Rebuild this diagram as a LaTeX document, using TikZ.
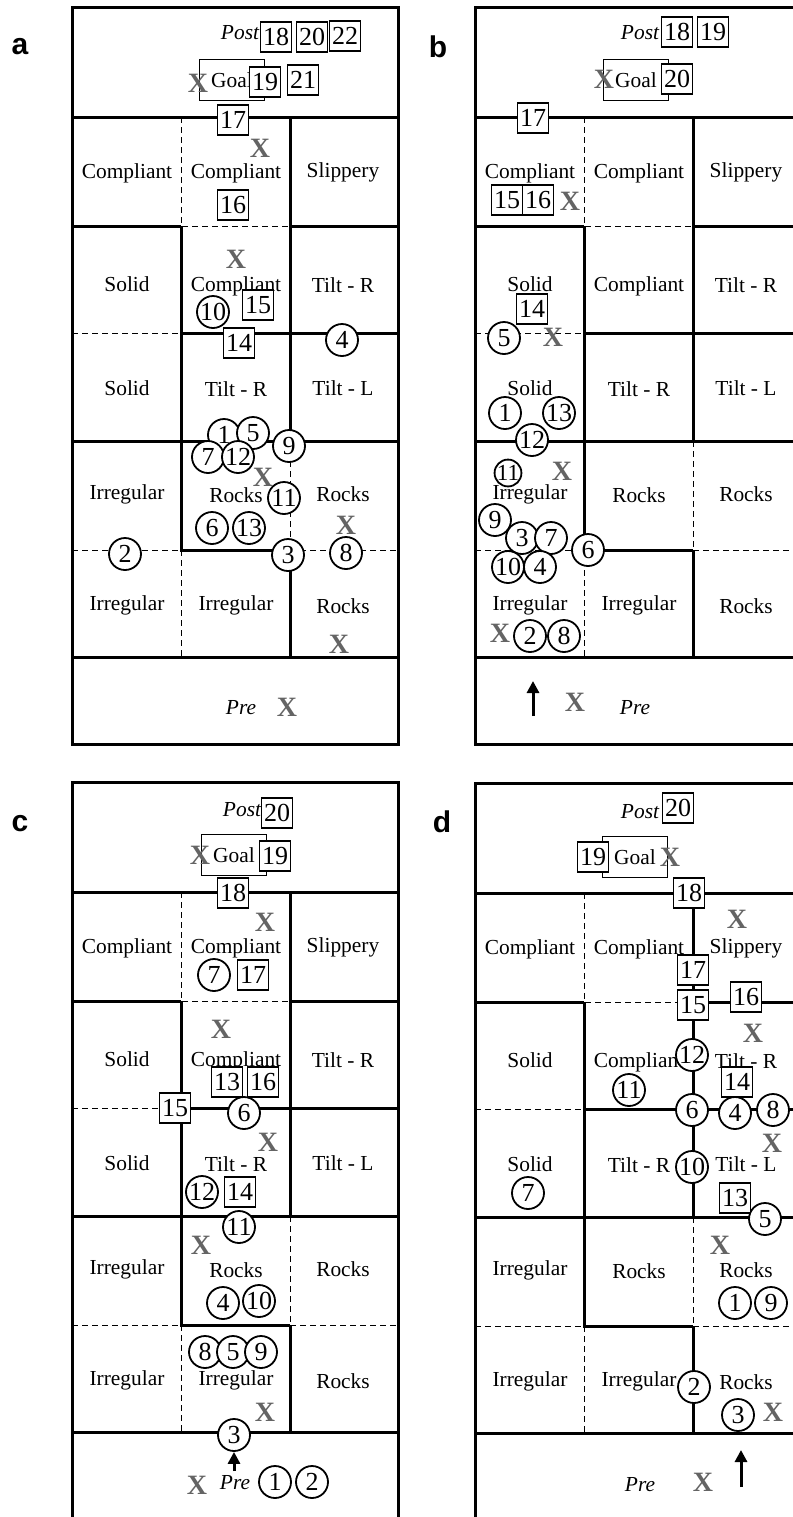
\documentclass[tikz,border=0pt]{standalone}
\usepackage{fontspec}
\setmainfont{Liberation Serif}
\newfontfamily\panelfont{Liberation Sans}
\usetikzlibrary{arrows.meta}
\definecolor{markgray}{RGB}{100,100,100}

% walls and lanes of one arena, in pixels from its top left corner
\newcommand{\arenagrid}{%
  \draw[wall] (0,0) rectangle (326,737);
  \draw[wall] (0,110) -- (326,110);
  \draw[wall] (218,110) -- (218,434) (218,543) -- (218,650);
  \draw[wall] (0,219) -- (109,219) (218,219) -- (326,219);
  \draw[wall] (109,219) -- (109,543) -- (218,543);
  \draw[wall] (109,326) -- (326,326);
  \draw[wall] (0,434) -- (326,434);
  \draw[wall] (0,650) -- (326,650);
  \draw[lane] (109,110) -- (109,219) -- (218,219);
  \draw[lane] (0,326) -- (109,326);
  \draw[lane] (218,434) -- (218,543);
  \draw[lane] (0,543) -- (109,543) (218,543) -- (326,543);
  \draw[lane] (109,543) -- (109,650);
}
\newcommand{\arenalabels}[1]{%
  \foreach \x/\y/\t in {55/166/Compliant,164/166/Compliant,271/165/Slippery,
      55/277/Solid,164/279/Compliant,271/278/Tilt - R,
      55/381/Solid,164/382/Tilt - R,271/381/Tilt - L,
      55/487/Irregular,164/488/Rocks,271/487/Rocks,
      55/598/Irregular,164/598/Irregular,271/599/Rocks}
    \node[cell] (#1-\x-\y) at (\x,\y) {\t};
}

\begin{document}
\begin{tikzpicture}[x=0.5pt,y=-0.5pt,>=Latex,
    wall/.style={line width=1.5pt},
    lane/.style={line width=0.5pt,dash pattern=on 3pt off 2pt},
    cell/.style={font=\fontsize{10.7}{12}\selectfont,inner sep=0pt},
    zone/.style={font=\fontsize{10.7}{12}\selectfont\itshape,inner sep=0pt},
    goalbox/.style={draw,line width=0.9pt,minimum width=32.5pt,minimum height=20.5pt,
      inner sep=0pt,font=\fontsize{10.7}{12}\selectfont},
    trialcirc/.style={circle,draw,fill=white,line width=0.9pt,minimum size=16pt,
      inner sep=0pt,font=\fontsize{13}{13}\selectfont},
    trialbox/.style={draw,fill=white,line width=0.9pt,minimum width=15.5pt,
      minimum height=15pt,inner sep=0.5pt,font=\fontsize{13}{13}\selectfont},
    miss/.style={text=markgray,inner sep=0pt,font=\fontsize{14}{14}\selectfont\bfseries},
    panel/.style={font=\fontsize{15}{15}\panelfont\bfseries},
    startarrow/.style={line width=1.5pt,-{Triangle[length=6pt,width=6pt]}}]
  \useasboundingbox (0,0) rectangle (793,1517);
  \clip (0,0) rectangle (793,1517);

  % a
  \begin{scope}[shift={(72,7)}]
    \arenagrid
    \arenalabels{a}
  \end{scope}
  \node[panel] (alabel) at (20,47) {a};
  \node[zone] (apost) at (240,33) {Post};
  \node[goalbox] (agoal) at (232,80) {Goal};
  \node[zone] (apre) at (241,708) {Pre};
  \foreach \x/\y/\n in {224/435/1,253/433/5,289/446/9,208/457/7,238/457/12,
      284/498/11,212/528/6,249/528/13,125/554/2,288/555/3,346/553/8,213/312/10,342/340/4}
    \node[trialcirc] (a\n) at (\x,\y) {\n};
  \foreach \x/\y/\n in {276/37/18,312/37/20,345/36/22,265/82/19,303/80/21,
      233/120/17,233/205/16,258/305/15,239/343/14}
    \node[trialbox] (a\n) at (\x,\y) {\n};
  \foreach \x/\y [count=\i] in {198/83,260/148,236/259,263/477,346/525,339/644,287/707}
    \node[miss] (aX\i) at (\x,\y) {X};

  % b
  \begin{scope}[shift={(475,7)}]
    \arenagrid
    \arenalabels{b}
  \end{scope}
  \node[panel] (blabel) at (438,47) {b};
  \node[zone] (bpost) at (640,33) {Post};
  \node[goalbox] (bgoal) at (636,80) {Goal};
  \node[zone] (bpre) at (635,708) {Pre};
  \foreach \x/\y/\n in {504/338/5,505/413/1,559/413/13,532/440/12,
      495/520/9,522/538/3,551/538/7,588/550/6,508/567/10,540/567/4,530/636/2,564/636/8}
    \node[trialcirc] (b\n) at (\x,\y) {\n};
  \node[trialcirc,minimum size=13pt,font=\fontsize{11.5}{11.5}\selectfont] (b11) at (508,473) {11};
  \foreach \x/\y/\n in {677/32/18,713/32/19,677/79/20,533/118/17,507/200/15,
      538/200/16,532/309/14}
    \node[trialbox] (b\n) at (\x,\y) {\n};
  \foreach \x/\y [count=\i] in {604/79,570/201,553/337,562/471,500/633,575/702}
    \node[miss] (bX\i) at (\x,\y) {X};
  \coordinate (btail) at (533,716);
  \coordinate (bhead) at (533,681);
  \draw[startarrow] (btail) -- (bhead);

  % c
  \begin{scope}[shift={(72,782)}]
    \arenagrid
    \arenalabels{c}
  \end{scope}
  \node[panel] (clabel) at (20,824) {c};
  \node[zone] (cpost) at (242,810) {Post};
  \node[goalbox] (cgoal) at (234,855) {Goal};
  \node[zone] (cpre) at (235,1483) {Pre};
  \foreach \x/\y/\n in {214/975/7,244/1113/6,202/1192/12,239/1227/11,223/1303/4,
      259/1301/10,205/1352/8,233/1352/5,261/1352/9,234/1435/3,275/1482/1,312/1482/2}
    \node[trialcirc] (c\n) at (\x,\y) {\n};
  \foreach \x/\y/\n in {277/813/20,275/856/19,233/893/18,253/975/17,227/1082/13,
      263/1082/16,175/1108/15,240/1192/14}
    \node[trialbox] (c\n) at (\x,\y) {\n};
  \foreach \x/\y [count=\i] in {200/855,265/922,221/1029,268/1142,201/1245,265/1412,197/1485}
    \node[miss] (cX\i) at (\x,\y) {X};
  \coordinate (ctail) at (234,1471);
  \draw[startarrow] (ctail) -- (c3.south);

  % d
  \begin{scope}[shift={(475,783)}]
    \arenagrid
    \arenalabels{d}
  \end{scope}
  \node[panel] (dlabel) at (442,822) {d};
  \node[zone] (dpost) at (640,812) {Post};
  \node[goalbox] (dgoal) at (635,857) {Goal};
  \node[zone] (dpre) at (640,1485) {Pre};
  \foreach \x/\y/\n in {692/1055/12,629/1090/11,692/1110/6,735/1113/4,773/1110/8,
      528/1193/7,692/1167/10,765/1219/5,735/1303/1,771/1303/9,694/1387/2,738/1415/3}
    \node[trialcirc] (d\n) at (\x,\y) {\n};
  \foreach \x/\y/\n in {678/808/20,593/857/19,689/893/18,693/970/17,693/1005/15,
      746/997/16,737/1082/14,735/1198/13}
    \node[trialbox] (d\n) at (\x,\y) {\n};
  \foreach \x/\y [count=\i] in {670/857,737/919,753/1033,772/1143,720/1245,773/1412,703/1482}
    \node[miss] (dX\i) at (\x,\y) {X};
  \coordinate (dtail) at (741,1487);
  \coordinate (dhead) at (741,1450);
  \draw[startarrow] (dtail) -- (dhead);
\end{tikzpicture}
\end{document}
